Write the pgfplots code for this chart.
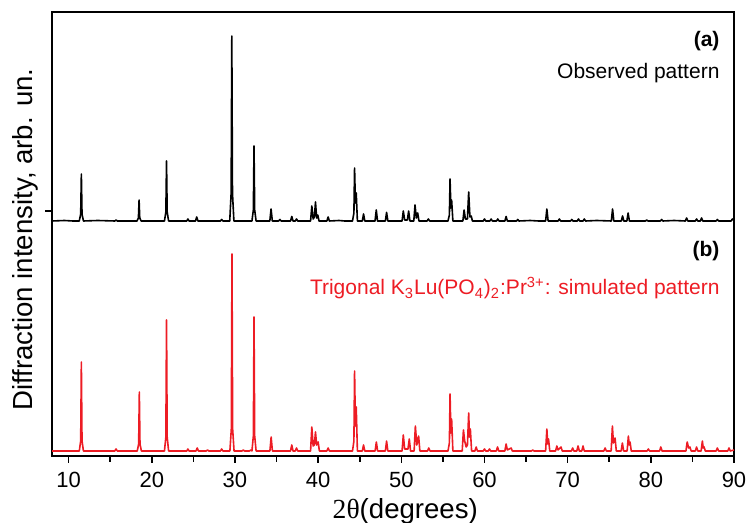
\documentclass[border=0pt]{standalone}
\usepackage{fontspec}
\setmainfont{Liberation Sans}
\newfontfamily\greekserif{Liberation Serif}
\usepackage{pgfplots}
\usepackage{pgfplotstable}
\pgfplotsset{compat=1.18}
\definecolor{simred}{RGB}{237,28,36}

\pgfplotstableread{
x y
8.0 0
9.5 0.5
10.5 0
11.28 0
11.45 7
11.53 47
11.61 7
11.78 0
13.5 0.5
15.55 0
15.7 1
15.85 0
18.22 0
18.39 3
18.47 21
18.55 3
18.72 0
21.52 0
21.69 9
21.77 60
21.85 9
22.02 0
24.2 0
24.34 2
24.48 0
25.25 0
25.4 4
25.55 0
28.25 0
28.4 1.5
28.55 0
29.37 0
29.54 28
29.62 185
29.70 28
29.87 0
32.04 0
32.21 11
32.29 75
32.37 11
32.54 0
34.19 0
34.34 12
34.49 0
35.25 0
35.4 1.5
35.55 0
36.68 0
36.83 4.5
36.98 0
37.25 0
37.4 2
37.55 0
39.09 0
39.24 15
39.4 2
39.55 4
39.68 19
39.82 3
39.96 6
40.1 0
41.05 0
41.2 4
41.35 0
42.5 0.5
43.2 0
44.13 0
44.30 8
44.38 53
44.48 18
44.58 28
44.72 0
45.31 0
45.46 7
45.61 0
46.84 0
46.99 11
47.14 0
48.08 0
48.23 8.6
48.38 0
50.09 0
50.24 10
50.4 1
50.73 1
50.88 10
51.03 0
51.5 0
51.65 16
51.8 3
51.97 8
52.12 0
53.1 0
53.25 2
53.4 0
55.61 0
55.78 6
55.86 42
55.96 13
56.05 21
56.2 0
57.4 0
57.55 11
57.7 2
57.95 2
58.1 29
58.25 4
58.4 5
58.55 0
59.85 0
60.0 2
60.15 0
60.65 0
60.8 2
60.95 0
61.45 0
61.6 2
61.75 0
62.45 0
62.6 4.5
62.75 0
63.85 0
64.0 1.5
64.15 0
65.5 0.5
66.5 0
67.35 0
67.5 12
67.65 0
68.85 0
69.0 2
69.15 0
70.35 0
70.5 1.5
70.65 0
71.15 0
71.3 2
71.45 0
71.85 0
72.0 2
72.15 0
73.5 0.5
75.25 0
75.4 12
75.55 0
76.45 0
76.6 5
76.75 0
77.12 0
77.27 8
77.42 0
79.35 0
79.5 1
79.65 0
81.15 0
81.3 1.5
81.45 0
82.8 0.5
84.15 0
84.3 3
84.45 0
85.35 0
85.5 2
85.65 0
85.95 0
86.1 3
86.25 0
87.85 0
88.0 1.5
88.15 0
89.65 0
89.8 2
90.0 0.5
}\observed

\pgfplotstableread{
x y
8 0
11.28 0
11.45 10
11.53 89
11.61 10
11.78 0
15.55 0
15.7 2
15.85 0
18.25 0
18.42 7
18.5 59
18.58 7
18.75 0
21.52 0
21.69 14
21.77 131
21.85 14
22.02 0
24.2 0
24.34 2
24.48 0
25.31 0
25.46 3
25.61 0
26.55 0
26.7 1
26.85 0
28.25 0
28.4 2
28.55 0
29.39 0
29.56 22
29.64 197
29.72 22
29.89 0
30.85 0
31.0 1
31.15 0
31.75 0
31.9 1
32.04 0
32.21 15
32.29 134
32.37 15
32.54 0
34.2 0
34.35 14
34.5 0
36.68 0
36.83 6
36.98 0
37.25 0
37.4 3
37.55 0
39.09 0
39.24 24
39.4 5
39.55 6
39.68 19
39.82 6
40.0 9
40.15 0
41.05 0
41.2 3
41.35 0
44.13 0
44.30 10
44.38 80
44.48 25
44.58 44
44.72 0
45.31 0
45.46 6
45.61 0
46.85 0
47.0 9
47.15 0
48.08 0
48.23 10
48.38 0
50.09 0
50.24 16
50.4 2
50.8 2
50.96 12
51.11 0
51.54 0
51.69 25
51.86 6
52.08 15
52.23 0
53.15 0
53.3 3
53.45 0
55.61 0
55.78 8
55.86 57
55.96 18
56.05 32
56.2 0
57.32 0
57.47 21
57.62 10
57.8 4
57.95 6
58.1 38
58.2 14
58.3 22
58.45 0
58.85 0
59.0 4
59.15 0
59.85 0
60.0 2
60.15 0
60.45 0
60.6 2
60.75 0
61.42 0
61.57 4
61.72 0
62.45 0
62.6 7
62.75 1
63.2 3
63.35 0
65.65 0
65.8 1
65.95 0
67.35 0
67.5 22
67.6 7
67.7 12
67.85 0
68.55 0
68.7 5
68.85 1
69.2 4
69.35 0
70.45 0
70.6 3
70.75 0
71.1 0
71.25 5
71.4 0
71.7 0
71.85 5
72.0 0
74.35 0
74.5 3
74.65 0
75.23 0
75.38 25
75.5 8
75.7 13
75.85 0
76.43 0
76.58 8
76.73 0
77.15 0
77.3 15
77.4 6
77.5 9
77.65 0
79.55 0
79.7 2
79.85 0
81.05 0
81.2 4
81.35 0
84.22 0
84.37 9
84.55 3
84.7 4
84.85 0
85.35 0
85.5 4
85.65 0
86.05 0
86.2 10
86.3 3
86.4 4
86.55 0
87.85 0
88.0 3
88.15 0
89.25 0
89.4 3
89.55 0
90 1
}\simulated

\begin{document}
\begin{tikzpicture}
\begin{axis}[
  scale only axis,
  width=341pt, height=222pt,
  xmin=8, xmax=90, ymin=0, ymax=444,
  xtick={10,20,...,90},
  minor x tick num=1,
  ytick={245}, yticklabels={},
  xtick pos=bottom, ytick pos=left,
  tick align=outside,
  major tick length=3.5pt, minor tick length=3pt,
  every tick/.style={black, line width=0.8pt},
  axis line style={line width=1pt},
  /pgf/number format/assume math mode=true,
  ticklabel style={font=\fontsize{11}{13}\selectfont},
  xticklabel style={yshift=-1pt},
  xlabel={{\greekserif 2θ}(degrees)},
  ylabel={Diffraction intensity, arb. un.},
  label style={font=\fontsize{13.8}{16}\selectfont},
  xlabel style={at={(axis description cs:0.518,0)}, anchor=base, yshift=-31.5pt, inner sep=0pt},
  ylabel style={at={(axis description cs:-0.0279,0.4876)}, anchor=base, inner sep=0pt},
  clip=true,
]
\addplot[simred, line width=0.8pt, line join=round] table[x=x, y expr=\thisrow{y}+5] {\simulated};
\addplot[black, line width=0.8pt, line join=round] table[x=x, y expr=\thisrow{y}+235] {\observed};
\node[anchor=base east, inner sep=0pt, font=\fontsize{10.5}{12}\selectfont\bfseries] at (axis cs:88.3,409) {(a)};
\node[anchor=base east, inner sep=0pt, font=\fontsize{10.5}{12}\selectfont] at (axis cs:88.3,377) {Observed pattern};
\node[anchor=base east, inner sep=0pt, font=\fontsize{10.5}{12}\selectfont\bfseries] at (axis cs:88.3,199) {(b)};
\node[anchor=base east, inner sep=0pt, text=simred, font=\fontsize{10.5}{12}\selectfont] at (axis cs:88.3,161) {Trigonal K\textsubscript{3}Lu(PO\textsubscript{4})\textsubscript{2}:Pr\textsuperscript{3+}: simulated pattern};
\end{axis}
\pgfresetboundingbox
\path ([shift={(-26pt,-33.5pt)}]current axis.south west) rectangle ([shift={(7.5pt,6pt)}]current axis.north east);
\end{tikzpicture}
\end{document}
